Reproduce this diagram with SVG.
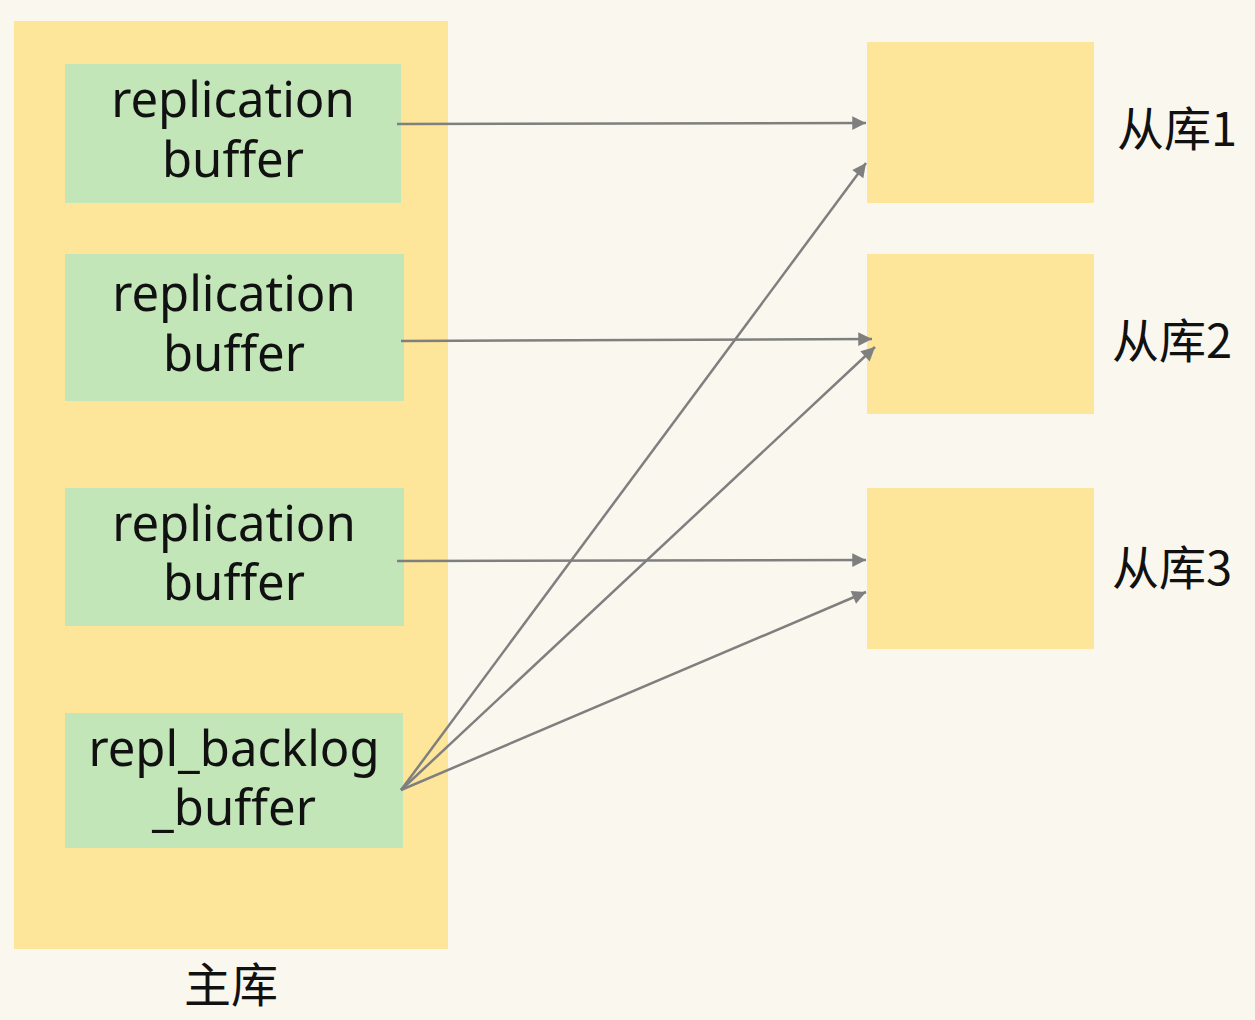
<svg xmlns="http://www.w3.org/2000/svg" width="1255" height="1020" viewBox="0 0 1255 1020">
<defs>
<marker id="ah" viewBox="0 0 10 10" refX="10" refY="5" markerWidth="7" markerHeight="5.5" markerUnits="strokeWidth" orient="auto" overflow="visible">
<path d="M0,0 L10,5 L0,10 z" fill="#7f7f7f"/>
</marker>
<style>
.master{fill:#fde699}
.buf{fill:#c3e6b9}
.slave{fill:#fde699}
.t{font-family:"Noto Sans","Noto Sans CJK SC",sans-serif;font-size:49px;fill:#111;text-anchor:middle}
.c{font-family:"Noto Sans CJK SC","Noto Sans",sans-serif;font-size:47px;fill:#111;text-anchor:middle}
.ln{stroke:#7f7f7f;stroke-width:2.5;fill:none;marker-end:url(#ah)}
</style>
</defs>
<rect width="1255" height="1020" fill="#faf8ee"/>
<g id="master">
<rect class="master" x="14" y="21" width="434" height="928"/>
<text class="c" x="231" y="1002">主库</text>
</g>
<g id="buf1"><rect class="buf" x="65" y="64" width="336" height="139"/>
<text class="t" x="233" y="117">replication</text><text class="t" x="233" y="177">buffer</text></g>
<g id="buf2"><rect class="buf" x="65" y="254" width="339" height="147"/>
<text class="t" x="234" y="311">replication</text><text class="t" x="234" y="371">buffer</text></g>
<g id="buf3"><rect class="buf" x="65" y="488" width="339" height="138"/>
<text class="t" x="234" y="541">replication</text><text class="t" x="234" y="600">buffer</text></g>
<g id="backlog"><rect class="buf" x="65" y="713" width="338" height="135"/>
<text class="t" x="234" y="766">repl_backlog</text><text class="t" x="234" y="825">_buffer</text></g>
<g id="slave1"><rect class="slave" x="867" y="42" width="227" height="161"/>
<text class="c" x="1177" y="146">从库1</text></g>
<g id="slave2"><rect class="slave" x="867" y="254" width="227" height="160"/>
<text class="c" x="1172" y="358">从库2</text></g>
<g id="slave3"><rect class="slave" x="867" y="488" width="227" height="161"/>
<text class="c" x="1172" y="585">从库3</text></g>
<g id="connectors">
<line class="ln" x1="397" y1="124" x2="866" y2="123"/>
<line class="ln" x1="401" y1="341" x2="872" y2="339"/>
<line class="ln" x1="397" y1="561" x2="866" y2="560"/>
<line class="ln" x1="401" y1="790" x2="866" y2="163"/>
<line class="ln" x1="401" y1="790" x2="875" y2="347"/>
<line class="ln" x1="401" y1="790" x2="866" y2="592"/>
</g>
</svg>
